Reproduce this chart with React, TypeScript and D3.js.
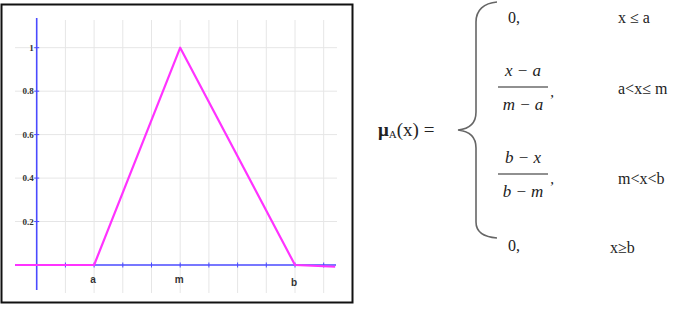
import React from 'react';
import * as d3 from 'd3';

// membership function breakpoints (grid units) and values
const xPoints = [-0.75, 2, 5, 9, 10.4];
const yPoints = [0, 0, 1, 0, -0.008];
const yTicks = [0.2, 0.4, 0.6, 0.8, 1];
const yTickLabels = ['0.2', '0.4', '0.6', '0.8', '1'];
const xGrid = [1, 2, 3, 4, 5, 6, 7, 8, 9, 10];
const xLabelPos = [2, 5, 9];
const xLabels = ['a', 'm', 'b'];

const W = 685;
const H = 310;

const x = d3.scaleLinear().domain([0, 10]).range([36.7, 323.7]);
const y = d3.scaleLinear().domain([0, 1]).range([265, 47.7]);

const line = d3
  .line<number>()
  .x((d, i) => x(xPoints[i]))
  .y((d) => y(d));

const serif = '"Liberation Serif", "DejaVu Serif", serif';
const sans = '"Liberation Sans", Arial, sans-serif';

const Fraction = ({ cx, barY, num, den }: { cx: number; barY: number; num: string; den: string }) => (
  <g fontFamily={serif} fontSize={17} fill="#222" textAnchor="middle">
    <text x={cx} y={barY - 11} fontStyle="italic">{num}</text>
    <line x1={cx - 25} x2={cx + 25} y1={barY} y2={barY} stroke="#222" strokeWidth={1.2} />
    <text x={cx} y={barY + 23} fontStyle="italic">{den}</text>
    <text x={cx + 29} y={barY + 10} fontSize={15}>,</text>
  </g>
);

export default function App() {
  const brace =
    'M497,2 C484,3 476,10 476,22 L476,112 C476,124 468,129 458,130 C468,131 476,136 476,148 L476,222 C476,232 484,237 497,238';

  return (
    <svg width={W} height={H} style={{ position: 'absolute', left: 0, top: 0, background: '#fff' }}>
      {/* frame */}
      <rect x={1.5} y={4.5} width={351} height={298} fill="none" stroke="#111" strokeWidth={2} />

      {/* grid */}
      <g stroke="#e6e6e6" strokeWidth={1}>
        {xGrid.map((d) => (
          <line key={'gx' + d} x1={x(d)} x2={x(d)} y1={20} y2={293} />
        ))}
        {yTicks.map((d) => (
          <line key={'gy' + d} x1={15} x2={337} y1={y(d)} y2={y(d)} />
        ))}
      </g>

      {/* axes */}
      <g stroke="#4a4aff" strokeWidth={1.6}>
        <line x1={x(0)} x2={x(0)} y1={18} y2={290} />
        <line x1={15} x2={336} y1={y(0)} y2={y(0)} />
        {yTicks.map((d) => (
          <line key={'ty' + d} x1={x(0) - 2.5} x2={x(0) + 2.5} y1={y(d)} y2={y(d)} strokeWidth={1} />
        ))}
        {xGrid.map((d) => (
          <line key={'tx' + d} x1={x(d)} x2={x(d)} y1={y(0) - 2.5} y2={y(0) + 2.5} strokeWidth={1} />
        ))}
      </g>

      {/* tick labels */}
      <g fontFamily={serif} fontWeight="bold" fontSize={9} fill="#333" textAnchor="end">
        {yTicks.map((d, i) => (
          <text key={'ly' + d} x={x(0) - 3} y={y(d) + 3}>{yTickLabels[i]}</text>
        ))}
      </g>
      <g fontFamily={sans} fontWeight="bold" fontSize={10} fill="#333" textAnchor="middle">
        {xLabelPos.map((d, i) => (
          <text key={'lx' + d} x={x(d) - 1} y={i === 2 ? 286 : 283}>{xLabels[i]}</text>
        ))}
      </g>

      {/* membership function */}
      <path d={line(yPoints) || ''} fill="none" stroke="#ff33ff" strokeWidth={2.2} strokeLinejoin="round" />

      {/* formula */}
      <text x={378} y={136} fontFamily={serif} fontSize={19} fill="#222">
        <tspan fontWeight="bold">μ</tspan>
        <tspan fontSize={11} dy={2}>A</tspan>
        <tspan dy={-2}>(x) =</tspan>
      </text>
      <path d={brace} fill="none" stroke="#666" strokeWidth={1.6} />

      <g fontFamily={serif} fontSize={16} fill="#222">
        <text x={508} y={23}>0,</text>
        <text x={618} y={23}>x ≤ a</text>
        <text x={618} y={94}>a&lt;x≤ m</text>
        <text x={618} y={184}>m&lt;x&lt;b</text>
        <text x={508} y={251}>0,</text>
        <text x={610} y={253}>x≥b</text>
      </g>
      <Fraction cx={523} barY={87} num="x − a" den="m − a" />
      <Fraction cx={523} barY={174} num="b − x" den="b − m" />
    </svg>
  );
}
